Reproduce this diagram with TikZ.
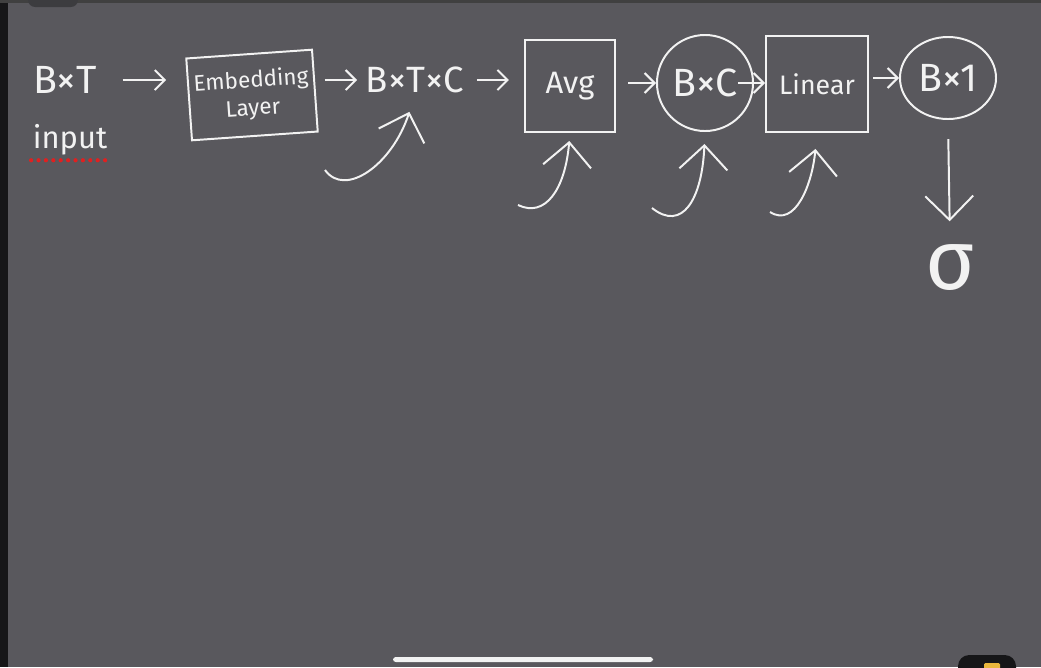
\documentclass[tikz,border=0pt]{standalone}
\usepackage{fontspec}
\setmainfont{Fira Sans}
\usetikzlibrary{arrows.meta, positioning, shapes.geometric}
\definecolor{boardgray}{HTML}{59585D}
\definecolor{chalk}{HTML}{F2F2F2}
\definecolor{spellred}{HTML}{E02020}
\definecolor{bezeldark}{HTML}{161618}
\definecolor{tabgray}{HTML}{3C3C3F}
\definecolor{iconyellow}{HTML}{E9B63C}

\begin{document}
\begin{tikzpicture}[x=0.025cm, y=-0.025cm,
      box/.style={rectangle, draw=chalk, line width=1.4pt, text=chalk, align=center, inner sep=2pt},
      ring/.style={circle, draw=chalk, line width=1.4pt, text=chalk, inner sep=0pt, minimum size=2.4cm},
      oval/.style={ellipse, draw=chalk, line width=1.4pt, text=chalk, inner sep=0pt, minimum width=2.4cm, minimum height=2.05cm},
      lbl/.style={text=chalk, inner sep=1pt},
      arrow/.style={-{Straight Barb[length=2.5mm, width=5mm]}, chalk, line width=1.4pt},
      hook/.style={-{Straight Barb[length=6mm, width=12mm]}, chalk, line width=1.4pt},
      spell/.style={spellred, line width=3pt, line cap=round, dash pattern=on 0pt off 1.85mm},
    ]
    % board and screen frame
    \fill[boardgray] (0,0) rectangle (1041,667);
    \useasboundingbox (0,0) rectangle (1041,667);
    \fill[bezeldark] (0,0) rectangle (8,667);
    \fill[black!75] (0,0) rectangle (1041,3);
    \fill[tabgray, rounded corners=5pt] (28,-10) rectangle (78,7);
    \fill[chalk, rounded corners=2pt] (393,657) rectangle (653,662);
    \begin{scope}
      \clip (0,0) rectangle (1041,667);
      \fill[bezeldark, rounded corners=8pt] (958,655) rectangle (1016,690);
      \fill[iconyellow, rounded corners=1pt] (984,663) rectangle (1000,672);
    \end{scope}

    \node[lbl, font=\fontsize{28}{30}\selectfont] (bt) at (65,80) {B×T};
    \node[lbl, font=\fontsize{22}{24}\selectfont] (inp) at (70,140) {input};
    \node[box, font=\fontsize{16}{20}\selectfont, minimum width=3.15cm, minimum height=2.05cm, rotate=4] (emb) at (252,95) {Embedding\\Layer};
    \node[lbl, font=\fontsize{26}{28}\selectfont] (btc) at (415,80) {B×T×C};
    \node[box, font=\fontsize{22}{24}\selectfont, minimum width=2.25cm, minimum height=2.3cm] (avg) at (570,86) {Avg};
    \node[ring, font=\fontsize{28}{30}\selectfont] (bc) at (705,83) {B×C};
    \node[box, font=\fontsize{19}{20}\selectfont, minimum width=2.55cm, minimum height=2.4cm] (lin) at (817,84) {Linear};
    \node[oval, font=\fontsize{28}{30}\selectfont] (bone) at (948,78) {B×1};
    \node[lbl, font=\fontsize{60}{62}\selectfont] (sig) at (950,268) {σ};

    \draw[spell] ([yshift=-0.08cm]inp.south west) -- ([yshift=-0.08cm]inp.south east);

    \draw[arrow, shorten <=0.6cm, shorten >=0.55cm] (bt.east) -- (bt.east -| emb.west);
    \draw[arrow, shorten <=0.22cm, shorten >=0.18cm] (emb.east |- btc.west) -- (btc.west);
    \draw[arrow, shorten <=0.28cm, shorten >=0.38cm] (btc.east) -- (btc.east -| avg.west);
    \draw[arrow, shorten <=0.3cm] (avg.east |- bc.west) -- (bc.west);
    \draw[arrow, shorten <=-0.4cm] (bc.east) -- (bc.east -| lin.west);
    \draw[arrow, shorten <=0.1cm] (lin.east |- bone.west) -- (bone.west);
    \draw[hook, shorten <=0.48cm, shorten >=0.55cm] (bone.south) -- (sig.north);

    % curved pointers from below
    \coordinate (h1) at (325,170);
    \coordinate (h2) at (518,205);
    \coordinate (h3) at (652,208);
    \coordinate (h4) at (770,212);
    \draw[hook, shorten >=0.45cm] (h1) .. controls (345,198) and (392,165) .. (btc.south);
    \draw[hook, shorten >=0.2cm] (h2) .. controls (545,218) and (565,190) .. (avg.south);
    \draw[hook, shorten >=0.3cm] (h3) .. controls (682,232) and (702,200) .. (bc.south);
    \draw[hook, shorten >=0.4cm] (h4) .. controls (795,228) and (812,185) .. (lin.south);
  \end{tikzpicture}
\end{document}
